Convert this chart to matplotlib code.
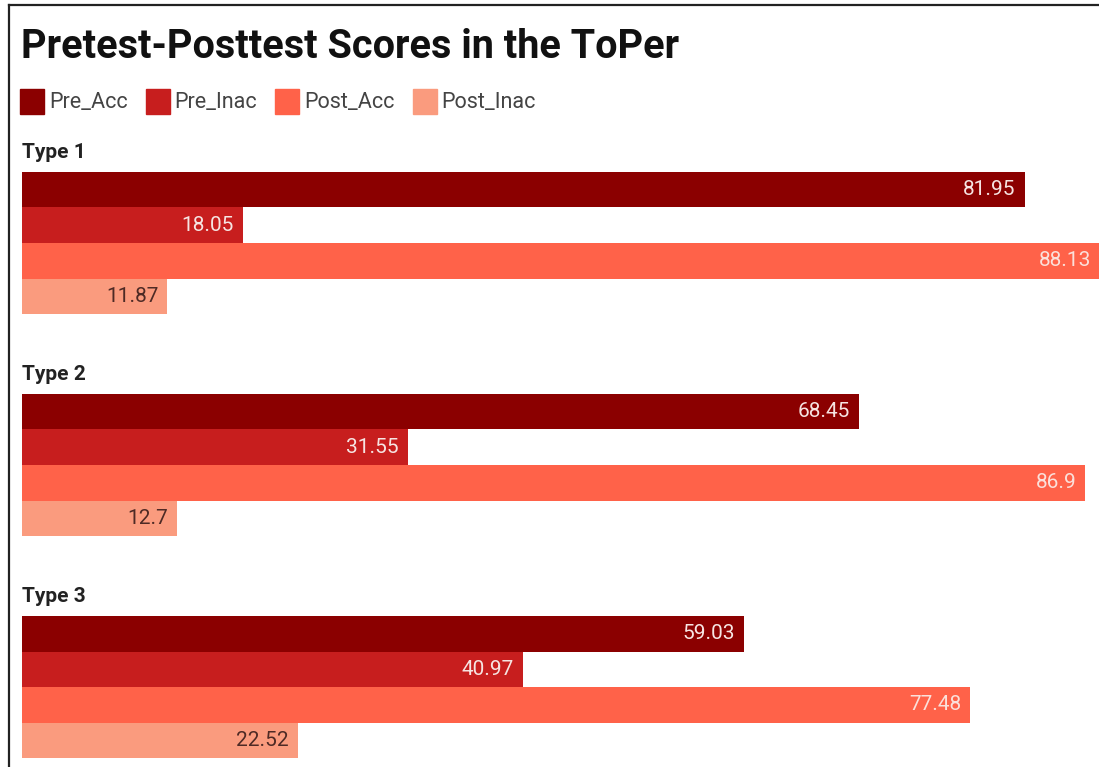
import matplotlib
matplotlib.use("Agg")
import matplotlib.pyplot as plt
import matplotlib.patches as mpatches
from matplotlib.lines import Line2D

plt.rcParams['font.family'] = ['Roboto', 'DejaVu Sans']

groups = ["Type 1", "Type 2", "Type 3"]
series = ["Pre_Acc", "Pre_Inac", "Post_Acc", "Post_Inac"]
colors = ["#8b0000", "#c71e1e", "#ff6249", "#fa9b7e"]
label_colors = ["#f6e4e2", "#f6e4e2", "#fbe0da", "#4e2a25"]

pre_acc = [81.95, 68.45, 59.03]
pre_inac = [18.05, 31.55, 40.97]
post_acc = [88.13, 86.9, 77.48]
post_inac = [11.87, 12.7, 22.52]
values = [pre_acc, pre_inac, post_acc, post_inac]

W, H = 1099, 767
fig = plt.figure(figsize=(W / 100, H / 100), dpi=100)
fig.patch.set_facecolor("white")


def fx(x):
    return x / W


def fy(y):
    return 1 - y / H


# frame (left and top edge only, the rest is cropped)
fig.add_artist(Line2D([fx(9), fx(9)], [fy(5), 0], color="#222222", lw=1.6, transform=fig.transFigure))
fig.add_artist(Line2D([fx(9), 1], [fy(5), fy(5)], color="#222222", lw=1.6, transform=fig.transFigure))

# bars axis: one unit in y == one bar height
bar_px = 35.6
group_step = 6.24
first_top = 171.7
ax = fig.add_axes([fx(22), 0, 1 - fx(22), 1])
ax.set_xlim(0, 1077 / 12.235)
ax.set_ylim((H - first_top) / bar_px, -first_top / bar_px)
ax.axis("off")

for gi, gname in enumerate(groups):
    top = gi * group_step
    ax.text(0, top - 13.5 / bar_px, gname, fontsize=15, fontweight="bold",
            color="#222222", ha="left", va="baseline")
    for si in range(len(series)):
        v = values[si][gi]
        yc = top + si + 0.5
        ax.barh(yc, v, height=1.0, color=colors[si], edgecolor="none")
        ax.annotate(f"{v}", xy=(v, yc), xytext=(-6.5, 0), textcoords="offset points",
                    ha="right", va="center", fontsize=15, color=label_colors[si],
                    annotation_clip=False)

# title
fig.text(fx(21), fy(58), "Pretest-Posttest Scores in the ToPer", fontsize=28.5,
         fontweight="bold", color="#111111", ha="left", va="baseline")

# legend drawn by hand
fig.canvas.draw()
renderer = fig.canvas.get_renderer()
x = 20
for name, c in zip(series, colors):
    fig.add_artist(mpatches.Rectangle((fx(x), fy(114)), fx(24), 25 / H, color=c,
                                      transform=fig.transFigure))
    t = fig.text(fx(x + 29), fy(102), name, fontsize=15.5, color="#444444",
                 ha="left", va="center")
    w = t.get_window_extent(renderer).width
    x = x + 29 + w + 18

fig.savefig("out.png", dpi=100)
